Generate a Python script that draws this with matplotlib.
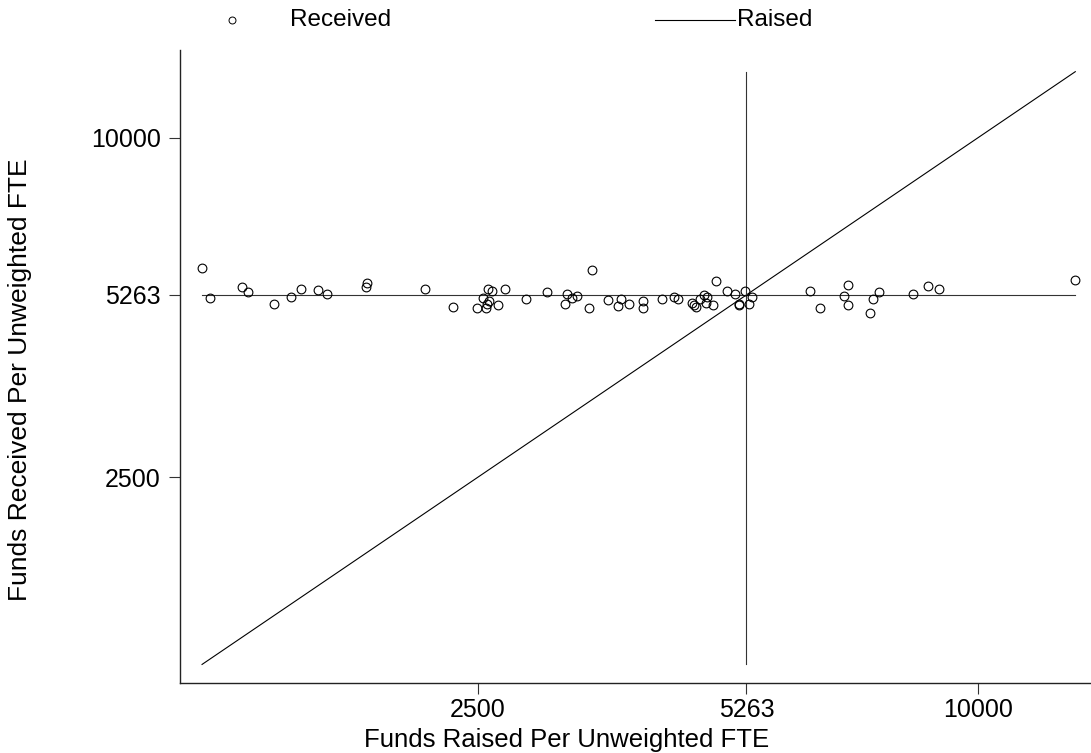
import numpy as np
import matplotlib
matplotlib.use("Agg")
import matplotlib.pyplot as plt
from matplotlib.lines import Line2D
from matplotlib.ticker import FixedLocator, NullLocator

plt.rcParams['font.family'] = ['Liberation Sans', 'DejaVu Sans']

# funds raised / received per unweighted FTE, one entry per unit
raised = [1164, 1189, 1302, 1322, 1420, 1490, 1531, 1604, 1648, 1838,
          1836, 2161, 2335, 2494, 2534, 2557, 2573, 2598, 2578, 2561,
          2646, 2697, 2854, 3030, 3203, 3183, 3243, 3288, 3427, 3402,
          3583, 3687, 3718, 3804, 3955, 3955, 4161, 4306, 4350, 4523,
          4555, 4573, 4628, 4683, 4722, 4705, 4793, 4834, 4983, 5095,
          5247, 5156, 5160, 5305, 5353, 6278, 6463, 6981, 6904, 6981,
          7482, 7612, 7414, 8353, 8715, 8969, 13099]
received = [5884, 5205, 5431, 5334, 5067, 5227, 5400, 5365, 5285, 5520,
            5431, 5400, 5017, 4985, 5188, 4981, 5389, 5350, 5125, 5069,
            5052, 5400, 5171, 5321, 5285, 5073, 5192, 5248, 5829, 4985,
            5146, 5038, 5171, 5067, 5136, 4997, 5184, 5214, 5184, 5100,
            5052, 5005, 5171, 5263, 5227, 5088, 5046, 5572, 5356, 5278,
            5350, 5067, 5058, 5067, 5227, 5350, 4995, 5482, 5242, 5052,
            5171, 5334, 4884, 5285, 5467, 5394, 5602]
mean_val = 5263
ticks = [2500, 5263, 10000]
tick_labels = ["2500", "5263", "10000"]

lo, hi = min(raised), max(raised)

fig = plt.figure(figsize=(10.91, 7.53), dpi=100)
ax = fig.add_axes([180 / 1091, 1 - 683 / 753, 910 / 1091, 633 / 753])

ax.plot([lo, hi], [lo, hi], color='black', lw=0.8)
ax.plot([lo, hi], [mean_val, mean_val], color='#333333', lw=0.8)
ax.plot([mean_val, mean_val], [lo, hi], color='#333333', lw=0.8)
ax.plot(raised, received, linestyle='none', marker='o', ms=6.3,
        mfc='none', mec='black', mew=0.8)

ax.set_xscale('log')
ax.set_yscale('log')
ax.set_xlim(1095, 13644)
ax.set_ylim(1079, 14312)
for axis in (ax.xaxis, ax.yaxis):
    axis.set_major_locator(FixedLocator(ticks))
    axis.set_minor_locator(NullLocator())
ax.set_xticklabels(tick_labels)
ax.set_yticklabels(tick_labels)
ax.tick_params(length=8, width=0.8, color='#333333', labelsize=18, pad=6)
ax.tick_params(axis='x', pad=3)

for s in ['top', 'right']:
    ax.spines[s].set_visible(False)
for s in ['left', 'bottom']:
    ax.spines[s].set_linewidth(1.0)
    ax.spines[s].set_color('#222222')

fig.text(567 / 1091, 1 - 740 / 753, "Funds Raised Per Unweighted FTE",
         ha='center', va='center', fontsize=18.5)
fig.text(20 / 1091, 1 - 380 / 753, "Funds Received Per Unweighted FTE",
         ha='center', va='center', rotation=90, fontsize=19)

# legend row at top
ly = 1 - 20 / 753
fig.add_artist(Line2D([232 / 1091], [ly], marker='o', ms=5, mfc='none',
                      mec='black', mew=0.7, linestyle='none'))
fig.text(290 / 1091, ly, "Received", ha='left', va='center', fontsize=17.5)
fig.add_artist(Line2D([655 / 1091, 735 / 1091], [ly, ly], color='black', lw=0.8))
fig.text(737 / 1091, ly, "Raised", ha='left', va='center', fontsize=17.5)

fig.savefig("out.png", dpi=100)
